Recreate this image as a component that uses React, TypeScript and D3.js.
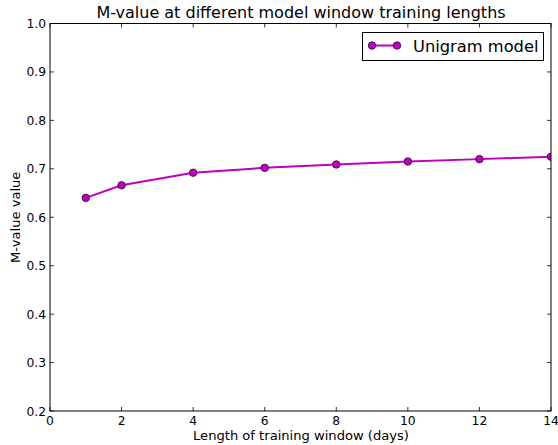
import React from "react";
import * as d3 from "d3";

const days = [1, 2, 4, 6, 8, 10, 12, 14];
const mValues = [0.640, 0.666, 0.692, 0.702, 0.709, 0.715, 0.720, 0.725];
const xTicks = [0, 2, 4, 6, 8, 10, 12, 14];
const yTicks = [0.2, 0.3, 0.4, 0.5, 0.6, 0.7, 0.8, 0.9, 1.0];
const title = "M-value at different model window training lengths";
const xLabel = "Length of training window (days)";
const yLabel = "M-value value";
const seriesName = "Unigram model";

const W = 558, H = 445;
const L = 50, R = 551, T = 23.5, B = 411;
const color = "#bf00bf";
const font = "'DejaVu Sans', sans-serif";

export default function App() {
  const x = d3.scaleLinear().domain([0, 14]).range([L, R]);
  const y = d3.scaleLinear().domain([0.2, 1.0]).range([B, T]);
  const line = d3.line<number>().x((_, i) => x(days[i])).y((d) => y(d));
  const tl = 4;
  return (
    <svg width={W} height={H} style={{ position: "absolute", left: 0, top: 0, background: "#fff" }} fontFamily={font}>
      <defs>
        <clipPath id="plot">
          <rect x={L} y={T} width={R - L} height={B - T} />
        </clipPath>
      </defs>
      <text x={301} y={17.5} textAnchor="middle" fontSize={16} fill="#000">{title}</text>
      {xTicks.map((t) => (
        <g key={"x" + t}>
          <line x1={x(t)} x2={x(t)} y1={B} y2={B - tl} stroke="#000" strokeWidth={0.8} />
          <line x1={x(t)} x2={x(t)} y1={T} y2={T + tl} stroke="#000" strokeWidth={0.8} />
          <text x={x(t)} y={425} textAnchor="middle" fontSize={12.3} fill="#000">{t}</text>
        </g>
      ))}
      {yTicks.map((t) => (
        <g key={"y" + t}>
          <line x1={L} x2={L + tl} y1={y(t)} y2={y(t)} stroke="#000" strokeWidth={0.8} />
          <line x1={R} x2={R - tl} y1={y(t)} y2={y(t)} stroke="#000" strokeWidth={0.8} />
          <text x={L - 4} y={y(t) + 4.5} textAnchor="end" fontSize={12.3} fill="#000">{t.toFixed(1)}</text>
        </g>
      ))}
      <text x={301} y={440} textAnchor="middle" fontSize={13.1} fill="#000">{xLabel}</text>
      <text transform={`translate(20,${(T + B) / 2}) rotate(-90)`} textAnchor="middle" fontSize={13.1} fill="#000">{yLabel}</text>
      <g clipPath="url(#plot)">
        <path d={line(mValues) || ""} fill="none" stroke={color} strokeWidth={2} />
        {mValues.map((v, i) => (
          <circle key={i} cx={x(days[i])} cy={y(v)} r={3.8} fill={color} stroke="#000" strokeWidth={0.6} />
        ))}
      </g>
      <rect x={L} y={T} width={R - L} height={B - T} fill="none" stroke="#000" strokeWidth={1} />
      <g>
        <rect x={362.5} y={32.5} width={181} height={28} fill="#fff" stroke="#000" strokeWidth={1} />
        <line x1={372} x2={397} y1={45.5} y2={45.5} stroke={color} strokeWidth={2} />
        <circle cx={372} cy={45.5} r={3.8} fill={color} stroke="#000" strokeWidth={0.6} />
        <circle cx={397} cy={45.5} r={3.8} fill={color} stroke="#000" strokeWidth={0.6} />
        <text x={413} y={51.5} fontSize={16.3} fill="#000">{seriesName}</text>
      </g>
    </svg>
  );
}
